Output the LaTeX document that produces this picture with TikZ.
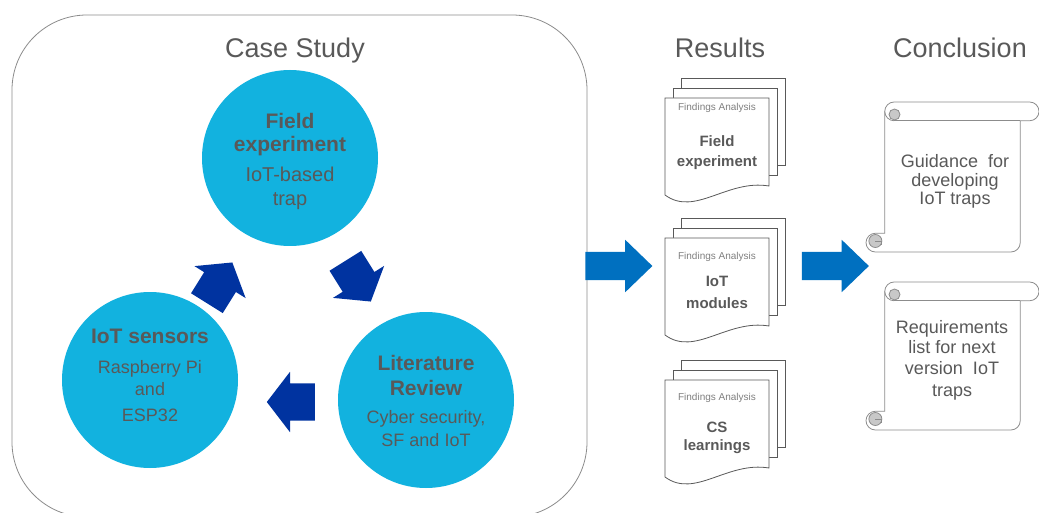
\documentclass[tikz,border=0pt]{standalone}
\usepackage{fontspec}
\setmainfont{Liberation Sans}
\usetikzlibrary{shapes.arrows,calc}
\definecolor{txt}{HTML}{595959}
\definecolor{cyanc}{HTML}{12B2DF}
\definecolor{navy}{HTML}{0033A0}
\definecolor{blu}{HTML}{0070C0}
\definecolor{frame}{HTML}{8C8C8C}
\definecolor{page}{HTML}{595959}
\definecolor{curl}{HTML}{C8C8C8}
\newcommand\docstack[1]{%
  \draw[pg] (681,#1-20) rectangle (785,#1+67);
  \draw[pg] (673,#1-10) rectangle (777,#1+77);
  \draw[pg] (665,#1) -- (769,#1) -- (769,#1+88) .. controls (727,#1+81) and (695,#1+119) .. (665,#1+97) -- cycle;
}
\newcommand\scrollbox[2]{%
  \draw[scroll] (884.75,#1+9.375) arc[start angle=180,end angle=270,radius=9.375] -- (1029.625,#1) arc[start angle=270,end angle=450,radius=9.375] -- (1020.25,#1+18.75) -- (1020.25,#2-9.375) arc[start angle=0,end angle=90,radius=9.375] -- (875.375,#2) arc[start angle=90,end angle=270,radius=9.375] -- (884.75,#2-18.75) -- cycle;
  \draw[frame,line width=0.8] (1020.25,#1+18.75) -- (894.125,#1+18.75);
  \draw[frame,line width=0.8] (884.75,#1+9.375) arc[start angle=180,end angle=90,radius=9.375];
  \draw[frame,line width=0.8,fill=curl] (894.5,#1+12.5) circle[radius=5.5];
  \draw[frame,line width=0.8,fill=curl] (875.375,#2-11) circle[radius=6.5];
  \draw[frame,line width=0.8] (875.375,#2-11) -- (881,#2-11) -- (881,#2-7);
}
\begin{document}
\begin{tikzpicture}[x=1pt,y=-1pt,
  title/.style={text=txt,font=\fontsize{27}{30}\selectfont,inner sep=0,anchor=base},
  bubble/.style={circle,fill=cyanc,minimum size=176,inner sep=0},
  btxt/.style={text=txt,font=\fontsize{21}{23}\selectfont\bfseries,inner sep=0,anchor=base},
  rtxt/.style={text=txt,font=\fontsize{18}{20}\selectfont,inner sep=0,anchor=base},
  ttxt/.style={text=txt,font=\fontsize{20}{22}\selectfont,inner sep=0,anchor=base},
  turn/.style={single arrow,fill=navy,minimum height=48,inner xsep=0,inner ysep=18.5,single arrow head extend=11.5,single arrow tip angle=105},
  flow/.style={single arrow,fill=blu,minimum height=67,inner xsep=0,inner ysep=14,single arrow head extend=12,single arrow tip angle=88},
  pg/.style={draw=page,line width=0.8,fill=white},
  small/.style={text=gray,font=\fontsize{10}{11}\selectfont,inner sep=0,anchor=base},
  dtxt/.style={text=txt,font=\fontsize{15}{17}\selectfont\bfseries,inner sep=0,anchor=base},
  scroll/.style={draw=frame,line width=0.8,fill=white},
  stxt/.style={text=txt,font=\fontsize{18}{21}\selectfont,inner sep=0,anchor=base}
]
\useasboundingbox (0,0) rectangle (1039,513);
\fill[white] (0,0) rectangle (1039,513);
\begin{scope}
\clip (0,0) rectangle (1039,513);
\node[draw=frame,line width=0.8,rounded corners=75,minimum width=575,minimum height=502,inner sep=0] (case) at (299.5,266) {};
\end{scope}

% titles
\node[title] (tcase) at (295,58) {Case Study};
\node[title] (tres) at (720,58) {Results};
\node[title] (tcon) at (960,58) {Conclusion};

% circles
\node[bubble] (field) at (290,158) {};
\node[bubble] (sensors) at (150,380) {};
\node[bubble] (lit) at (426,400) {};

\node[btxt] (f1) at (290,129) {Field};
\node[btxt] (f2) at (290,152) {experiment};
\node[ttxt] (f3) at (290,182) {IoT-based};
\node[ttxt] (f4) at (290,206) {trap};

\node[btxt] (s1) at (150,343) {IoT sensors};
\node[rtxt] (s2) at (150,373) {Raspberry Pi};
\node[rtxt] (s3) at (150,395) {and};
\node[rtxt] (s4) at (150,421) {ESP32};

\node[btxt] (l1) at (426,370) {Literature};
\node[btxt] (l2) at (426,395) {Review};
\node[rtxt] (l3) at (426,423) {Cyber security,};
\node[rtxt] (l4) at (426,446) {SF and IoT};

% cycle arrows
\node[turn,rotate=58] (a1) at (215.8,288.9) {};
\node[turn,rotate=-58] (a2) at (354.3,275.1) {};
\node[turn,rotate=180] (a3) at (298,402) {};

% flow arrows
\node[flow] (b1) at (611.5,266) {};
\node[flow] (b2) at (828,266) {};

% document stacks
\docstack{98}
\docstack{238}
\docstack{380}
\node[small] (d1a) at (717,111) {Findings Analysis};
\node[dtxt] (d1b) at (717,147) {Field};
\node[dtxt] (d1c) at (717,167) {experiment};
\node[small] (d2a) at (717,260) {Findings Analysis};
\node[dtxt] (d2b) at (717,286) {IoT};
\node[dtxt] (d2c) at (717,308) {modules};
\node[small] (d3a) at (717,400) {Findings Analysis};
\node[dtxt] (d3b) at (717,432) {CS};
\node[dtxt] (d3c) at (717,450) {learnings};

% scrolls
\scrollbox{102}{252}
\scrollbox{282}{430}
\node[stxt] (c1a) at (955,168) {Guidance\ \ for};
\node[stxt] (c1b) at (955,186.5) {developing};
\node[stxt] (c1c) at (955,205) {IoT traps};
\node[stxt] (c2a) at (952,333) {Requirements};
\node[stxt] (c2b) at (952,353) {list for next};
\node[stxt] (c2c) at (952,374) {version\ \ IoT};
\node[stxt] (c2d) at (952,396) {traps};
\end{tikzpicture}
\end{document}
